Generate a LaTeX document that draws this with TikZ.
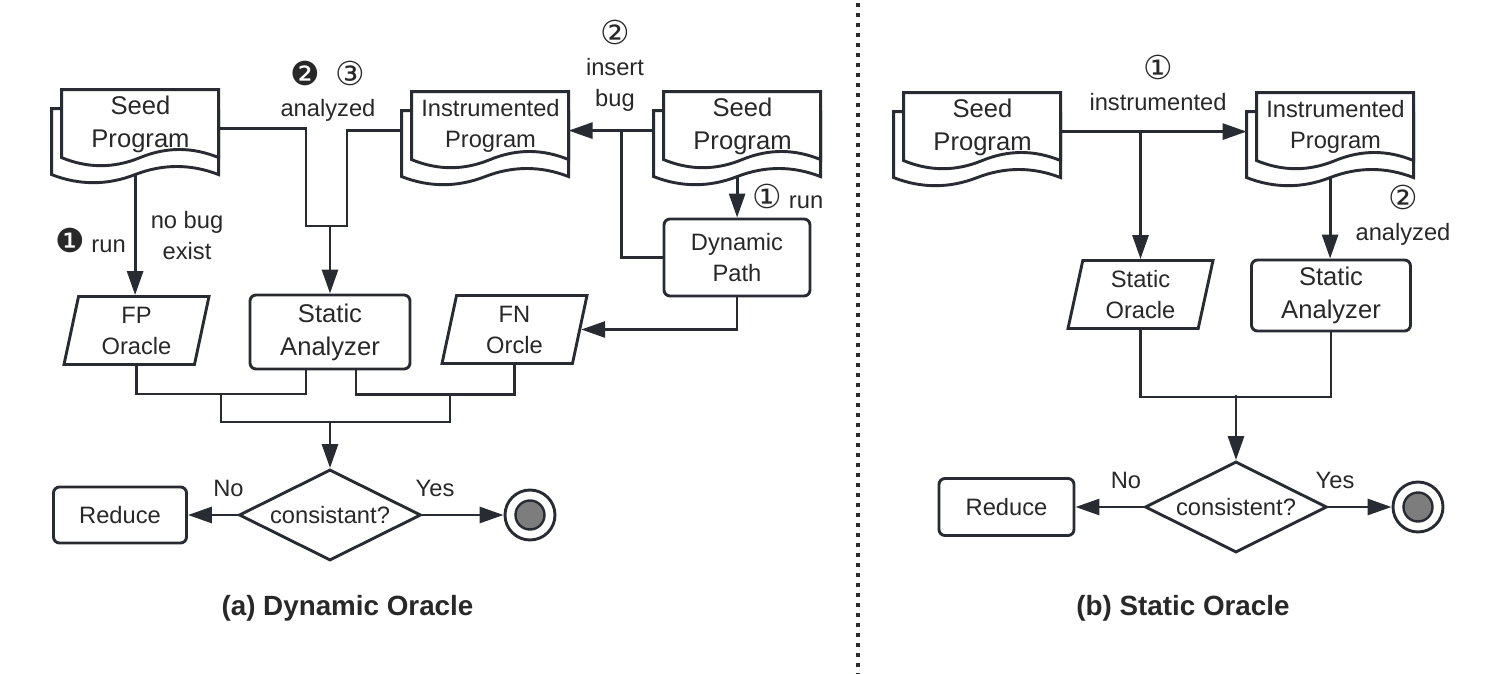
\documentclass[tikz,border=0pt]{standalone}
\usepackage{fontspec}
\setmainfont{Liberation Sans}
\newfontfamily\symfont{DejaVu Sans}
\usetikzlibrary{calc,positioning,shapes.geometric,arrows.meta}
\pgfdeclarelayer{bg}
\pgfdeclarelayer{docs}
\pgfsetlayers{bg,docs,main}
\definecolor{ink}{RGB}{40,43,50}
\definecolor{txt}{RGB}{40,40,40}
\definecolor{dotfill}{RGB}{125,125,125}
\newcommand{\basetxt}{\fontsize{11.85}{15.5}\selectfont}
\newcommand{\bigtxt}{\fontsize{12.8}{16.5}\selectfont}
\newcommand{\captxt}{\fontsize{13.9}{16}\selectfont\bfseries}
\newcommand{\cn}[1]{{\symfont\fontsize{16.5}{15.5}\selectfont #1}}
\tikzset{
    flow/.style={draw=ink, line width=1.45pt},
    arr/.style={flow, -{Triangle[length=12pt,width=8pt]}},
    proc/.style={draw=ink, line width=1.45pt, rounded corners=3pt, fill=white, align=center, inner sep=0pt, text=txt, font=\basetxt},
    oracle/.style={trapezium, trapezium left angle=73, trapezium right angle=107, trapezium stretches body, draw=ink, line width=1.45pt, fill=white, align=center, inner sep=0pt, text=txt, font=\basetxt, minimum width=72.5pt, minimum height=34pt},
    decide/.style={diamond, aspect=2, draw=ink, line width=1.45pt, fill=white, inner sep=0pt, minimum width=91pt, minimum height=45.5pt, text=txt, font=\basetxt},
    docnode/.style={inner sep=0pt, minimum width=78.5pt, minimum height=34pt, align=center, text=txt, font=\basetxt},
    docline/.style={draw=ink, line width=1.45pt, fill=white},
    endst/.style={circle, draw=ink, line width=1.45pt, fill=white, inner sep=0pt, minimum size=25pt},
    endin/.style={circle, draw=ink, line width=1.2pt, fill=dotfill, inner sep=0pt, minimum size=14.5pt},
    lbl/.style={align=center, text=txt, font=\basetxt, inner sep=1pt},
    captext/.style={text=txt, font=\captxt},
    sep/.style={draw=ink, line width=2pt, dash pattern=on 2pt off 3pt}
}
% stacked document shape drawn round a docnode
\newcommand{\multidoc}[1]{%
  \begin{pgfonlayer}{docs}
  \begin{scope}[shift={(#1.north west)}]
    % back sheet
    \draw[docline] (0,19) -- (-10,19) -- (-10,85)
      .. controls (17.8,95.8) and (45.7,95.8) .. (73.5,85)
      .. controls (101.3,74.2) and (129.2,74.2) .. (157,85) -- (157,19);
    % front sheet
    \draw[docline] (0,68) -- (0,0) -- (157,0) -- (157,68)
      .. controls (130.8,57.2) and (104.7,57.2) .. (78.5,68)
      .. controls (52.3,78.8) and (26.2,78.8) .. (0,68) -- cycle;
    \coordinate (#1-in) at (-10,39);
    \coordinate (#1-out) at (157,39);
    \coordinate (#1-foot) at (73.5,85);
  \end{scope}
  \end{pgfonlayer}}

\begin{document}
\begin{tikzpicture}[x=0.5pt,y=-0.5pt]
\useasboundingbox (0,0) rectangle (1500,674);

% (a) dynamic oracle
\node[docnode, font=\bigtxt] (seedA) at (140.5,124) {Seed\\Program};
\node[docnode] (instrA) at (490.5,126) {Instrumented\\Program};
\node[docnode, font=\bigtxt] (seedRun) at (742.5,126) {Seed\\Program};
\foreach \d in {seedA,instrA,seedRun} {\multidoc{\d}}

\node[proc, minimum width=73pt, minimum height=38.5pt] (dyn) at (737,257.5) {Dynamic\\Path};
\node[oracle] (fpO) at (136.5,330.5) {FP\\Oracle};
\node[proc, font=\bigtxt, minimum width=80pt, minimum height=37pt] (saA) at (330,332) {Static\\Analyzer};
\node[oracle] (fnO) at (514.5,329.5) {FN\\Orcle};
\node[decide] (diaA) at (330,515) {consistant?};
\node[proc, minimum width=66.5pt, minimum height=28pt] (redA) at (120,515) {Reduce};
\node[endst] (endA) at (530,515) {};
\node[endin] (endAdot) at (endA.center) {};

\node[lbl] (anaA) at (328,91) {\cn{❷}\hspace{8pt}\cn{③}\\analyzed};
\node[lbl] (insA) at (615,66) {\cn{②}\\insert\\bug};
\node[lbl] (runA) at (90.5,240) {\cn{❶} run};
\node[lbl] (nobugA) at (187,236) {no bug\\exist};
\node[lbl] (runR) at (788,196) {\cn{①} run};
\node[lbl] (noA) at (228.5,488) {No};
\node[lbl] (yesA) at (435,488) {Yes};

% (b) static oracle
\node[docnode, font=\bigtxt] (seedB) at (982.5,127) {Seed\\Program};
\node[docnode] (instrB) at (1335.5,127) {Instrumented\\Program};
\foreach \d in {seedB,instrB} {\multidoc{\d}}

\node[oracle] (soB) at (1140.5,294.5) {Static\\Oracle};
\node[proc, font=\bigtxt, minimum width=79.5pt, minimum height=35.5pt] (saB) at (1331,295.5) {Static\\Analyzer};
\node[decide] (diaB) at (1236,507) {consistent?};
\node[proc, minimum width=67.5pt, minimum height=28.5pt] (redB) at (1006.5,507) {Reduce};
\node[endst] (endB) at (1418,507) {};
\node[endin] (endBdot) at (endB.center) {};

\node[lbl] (insB) at (1158,83) {\cn{①}\\instrumented};
\node[lbl] (anaB) at (1403,215.5) {\cn{②}\\analyzed};
\node[lbl] (noB) at (1126,480) {No};
\node[lbl] (yesB) at (1335,480) {Yes};

\node[captext] (capA) at (347.5,608) {(a) Dynamic Oracle};
\node[captext] (capB) at (1183,608) {(b) Static Oracle};

% connectors
\begin{pgfonlayer}{bg}
\draw[arr] (seedA-foot) -- (seedA-foot |- fpO.north);
\coordinate (jA) at (330,226);
\draw[flow] (seedA-out) -| ($(jA)+(-24,0)$) -- ($(jA)+(17,0)$) |- (instrA-in);
\draw[arr] (jA) -- (saA.north);
\draw[arr] (seedRun-in) -- (instrA-out);
\coordinate (jIns) at ($(instrA-out)!0.62!(seedRun-in)$);
\draw[flow] (dyn.west) -| (jIns);
\draw[arr] (seedRun-foot) -- (seedRun-foot |- dyn.north);
\draw[arr] (dyn.south) |- (fnO);

% merge into the check
\draw[flow] (fpO.center |- fpO.south) -- ++(0,28) -| ($(saA.south)+(-24,0)$);
\draw[flow] ($(saA.south)+(26,0)$) -- ++(0,24) -| (fnO.center |- fnO.south);
\coordinate (mL) at (221,393);
\coordinate (mR) at (450,393);
\coordinate (jB) at (330,422);
\draw[flow] (mL) |- (jB) -| (mR);
\draw[arr] (jB) -- (diaA.north);
\draw[arr] (diaA.west) -- (redA.east);
\draw[arr] (diaA.east) -- (endA.west);

\draw[arr] (seedB-out) -- (instrB-in);
\coordinate (jS) at (soB.center |- seedB-out);
\draw[arr] (jS) -- (soB.center |- soB.north);
\draw[arr] (instrB-foot) -- (instrB-foot |- saB.north);
\draw[flow] (soB.center |- soB.south) -- ++(0,67) -| (saB.south);
\coordinate (jC) at (1236,395);
\draw[arr] (jC) -- (diaB.north);
\draw[arr] (diaB.west) -- (redB.east);
\draw[arr] (diaB.east) -- (endB.west);
\end{pgfonlayer}

% divider
\draw[sep] (858,3) -- (858,674);

\end{tikzpicture}
\end{document}
